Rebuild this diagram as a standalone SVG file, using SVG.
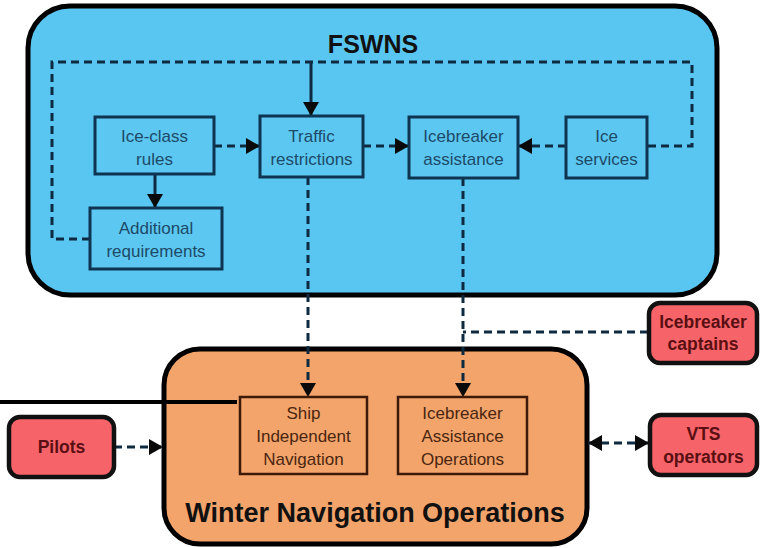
<svg xmlns="http://www.w3.org/2000/svg" width="772" height="548" viewBox="0 0 772 548">
  <style>
    .container { stroke: #000; stroke-width: 5; }
    .blue { fill: #59C6F1; }
    .orange { fill: #F3A46B; }
    .inner-b { fill: #5CC8F2; stroke: #0E3452; stroke-width: 3; }
    .inner-o { fill: #F3A46B; stroke: #3C1A0A; stroke-width: 2.5; }
    .actor { fill: #F6646A; stroke: #111; stroke-width: 4.5; }
    .t-b { font-family: "Liberation Sans", Arial, sans-serif; font-size: 17px; fill: #1D4A68; text-anchor: middle; }
    .t-o { font-family: "Liberation Sans", Arial, sans-serif; font-size: 17px; fill: #4A2610; text-anchor: middle; }
    .t-a { font-family: "Liberation Sans", Arial, sans-serif; font-size: 17.5px; font-weight: bold; fill: #5A0F12; text-anchor: middle; }
    .title { font-family: "Liberation Sans", Arial, sans-serif; font-weight: bold; text-anchor: middle; fill: #111; }
    .dash { fill: none; stroke: #0E2A40; stroke-width: 3; stroke-dasharray: 8 5; }
    .solid { fill: none; stroke: #0E2A40; stroke-width: 3; }
  </style>
  <defs>
    <marker id="arrow" viewBox="0 0 14 16" refX="14" refY="8" markerWidth="14" markerHeight="16" markerUnits="userSpaceOnUse" orient="auto-start-reverse">
      <path d="M0,0 L14,8 L0,16 z" fill="#0A0A0A"/>
    </marker>
  </defs>

  <rect width="772" height="548" fill="#FFFFFF"/>

  <!-- FSWNS container -->
  <g id="fswns">
    <rect class="container blue" x="28" y="6" width="689" height="289" rx="42"/>
    <text class="title" x="373" y="53" font-size="25">FSWNS</text>
  </g>

  <!-- Winter Navigation Operations container -->
  <g id="winter-navigation-operations">
    <rect class="container orange" x="164" y="349" width="423" height="195" rx="36"/>
    <text class="title" x="375" y="522" font-size="27" fill="#2A1408">Winter Navigation Operations</text>
  </g>

  <!-- connectors -->
  <g id="connectors">
    <path class="dash" d="M648,146 H692 V62 H52 V239 H90"/>
    <path class="solid" d="M311,62 V116" marker-end="url(#arrow)"/>
    <path class="dash" d="M214,146 H260" marker-end="url(#arrow)"/>
    <path class="dash" d="M363,146 H409" marker-end="url(#arrow)"/>
    <path class="dash" d="M566,146 H518" marker-end="url(#arrow)"/>
    <path class="solid" d="M155,174 V208" marker-end="url(#arrow)"/>
    <path class="dash" d="M308,177 V397" marker-end="url(#arrow)"/>
    <path class="dash" d="M463,178 V397" marker-end="url(#arrow)"/>
    <path class="dash" d="M648,332 H463"/>
    <path class="dash" d="M114,447 H163" marker-end="url(#arrow)"/>
    <path class="dash" d="M588,443 H649" marker-start="url(#arrow)" marker-end="url(#arrow)"/>
    <path d="M0,402 H237" stroke="#000" stroke-width="4" fill="none"/>
  </g>

  <!-- FSWNS nodes -->
  <g id="ice-class-rules">
    <rect class="inner-b" x="95" y="117" width="119" height="57"/>
    <text class="t-b" x="154.5" y="142">Ice-class</text>
    <text class="t-b" x="154.5" y="165">rules</text>
  </g>
  <g id="traffic-restrictions">
    <rect class="inner-b" x="260" y="116" width="103" height="61"/>
    <text class="t-b" x="311.5" y="142">Traffic</text>
    <text class="t-b" x="311.5" y="165">restrictions</text>
  </g>
  <g id="icebreaker-assistance">
    <rect class="inner-b" x="409" y="117" width="109" height="61"/>
    <text class="t-b" x="463.5" y="142">Icebreaker</text>
    <text class="t-b" x="463.5" y="165">assistance</text>
  </g>
  <g id="ice-services">
    <rect class="inner-b" x="566" y="117" width="81" height="61"/>
    <text class="t-b" x="606.5" y="142">Ice</text>
    <text class="t-b" x="606.5" y="165">services</text>
  </g>
  <g id="additional-requirements">
    <rect class="inner-b" x="90" y="208" width="132" height="61"/>
    <text class="t-b" x="156" y="234">Additional</text>
    <text class="t-b" x="156" y="257">requirements</text>
  </g>

  <!-- Winter navigation nodes -->
  <g id="ship-independent-navigation">
    <rect class="inner-o" x="240" y="397" width="127" height="77"/>
    <text class="t-o" x="303.5" y="419">Ship</text>
    <text class="t-o" x="303.5" y="442">Independent</text>
    <text class="t-o" x="303.5" y="465">Navigation</text>
  </g>
  <g id="icebreaker-assistance-operations">
    <rect class="inner-o" x="398" y="397" width="129" height="77"/>
    <text class="t-o" x="462.5" y="419">Icebreaker</text>
    <text class="t-o" x="462.5" y="442">Assistance</text>
    <text class="t-o" x="462.5" y="465">Operations</text>
  </g>

  <!-- external actors -->
  <g id="pilots">
    <rect class="actor" x="9" y="417" width="105" height="60" rx="11"/>
    <text class="t-a" x="61.5" y="453">Pilots</text>
  </g>
  <g id="icebreaker-captains">
    <rect class="actor" x="649" y="303" width="108" height="60" rx="11"/>
    <text class="t-a" x="703" y="328">Icebreaker</text>
    <text class="t-a" x="703" y="350">captains</text>
  </g>
  <g id="vts-operators">
    <rect class="actor" x="650" y="415" width="107" height="60" rx="11"/>
    <text class="t-a" x="703.5" y="440">VTS</text>
    <text class="t-a" x="703.5" y="463">operators</text>
  </g>
</svg>
